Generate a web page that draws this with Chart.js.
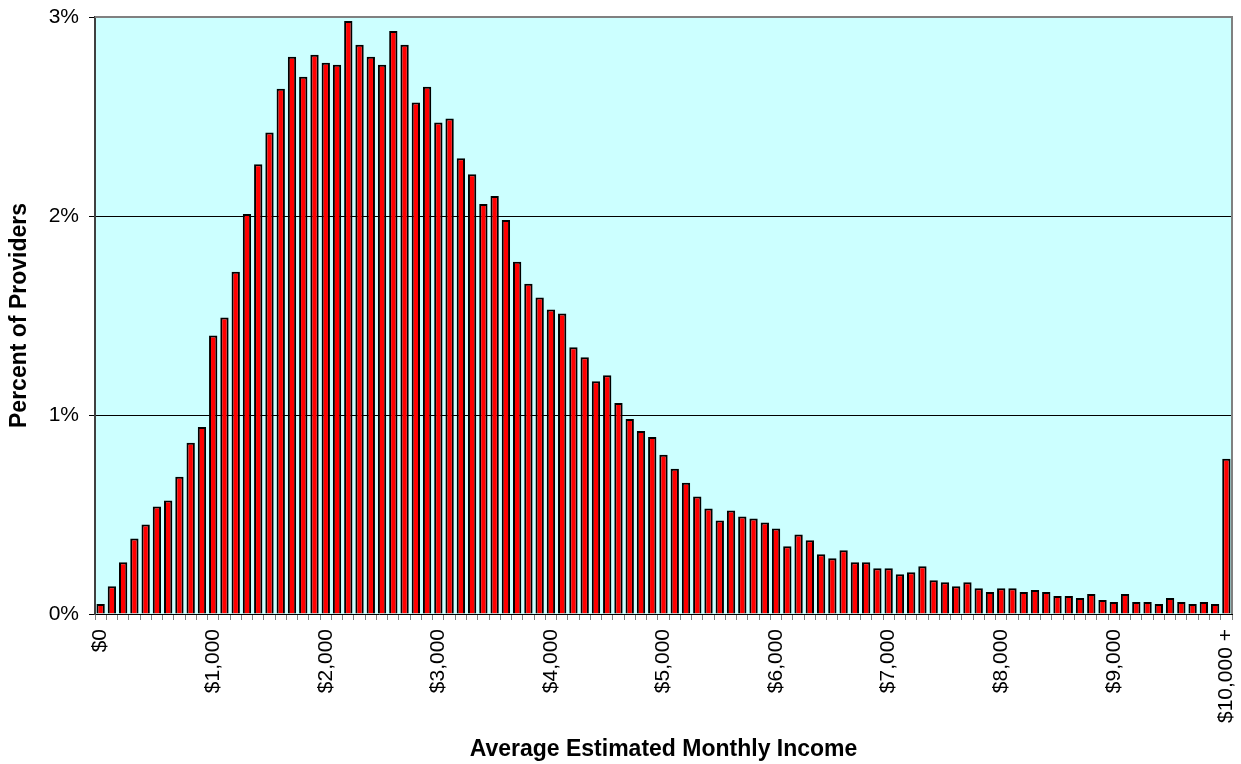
<!DOCTYPE html>
<html>
<head>
<meta charset="utf-8">
<script src="https://cdn.jsdelivr.net/npm/chart.js@4.4.1/dist/chart.umd.min.js"></script>
<style>
  html, body { margin: 0; padding: 0; background: #fff; }
  #incomeChart { display: block; }
</style>
</head>
<body>
<canvas id="incomeChart" width="1241" height="764"></canvas>
<script>
// ======================================================================
// Data: $100 income bins, share of providers in percent
// ======================================================================
const binStarts = [];
for (let v = 0; v <= 10000; v += 100) binStarts.push(v);

const providerShare = [
  0.05, 0.14, 0.26, 0.38, 0.45, 0.54, 0.57, 0.69, 0.86, 0.94,
  1.40, 1.49, 1.72, 2.01, 2.26, 2.42, 2.64, 2.80, 2.70, 2.81,
  2.77, 2.76, 2.98, 2.86, 2.80, 2.76, 2.93, 2.86, 2.57, 2.65,
  2.47, 2.49, 2.29, 2.21, 2.06, 2.10, 1.98, 1.77, 1.66, 1.59,
  1.53, 1.51, 1.34, 1.29, 1.17, 1.20, 1.06, 0.98, 0.92, 0.89,
  0.80, 0.73, 0.66, 0.59, 0.53, 0.47, 0.52, 0.49, 0.48, 0.46,
  0.43, 0.34, 0.40, 0.37, 0.30, 0.28, 0.32, 0.26, 0.26, 0.23,
  0.23, 0.20, 0.21, 0.24, 0.17, 0.16, 0.14, 0.16, 0.13, 0.11,
  0.13, 0.13, 0.11, 0.12, 0.11, 0.09, 0.09, 0.08, 0.10, 0.07,
  0.06, 0.10, 0.06, 0.06, 0.05, 0.08, 0.06, 0.05, 0.06, 0.05,
  0.78
];

// every 10th bin gets a label
const xTickLabels = ['$0', '$1,000', '$2,000', '$3,000', '$4,000', '$5,000',
  '$6,000', '$7,000', '$8,000', '$9,000', '$10,000 +'];

const yTickValues = [0, 1, 2, 3];

const FONT = '"Liberation Sans", Arial, sans-serif';

// plot background + grey frame on top/right
const plotFrame = {
  id: 'plotFrame',
  beforeDraw(chart) {
    const { ctx, chartArea: a } = chart;
    ctx.save();
    ctx.fillStyle = '#CCFFFF';
    ctx.fillRect(a.left, a.top, a.right - a.left, a.bottom - a.top);
    ctx.restore();
  },
  afterDraw(chart) {
    const { ctx, chartArea: a } = chart;
    ctx.save();
    ctx.strokeStyle = '#808080';
    ctx.lineWidth = 2;
    ctx.beginPath();
    ctx.moveTo(a.left, a.top);
    ctx.lineTo(a.right, a.top);
    ctx.lineTo(a.right, a.bottom);
    ctx.stroke();
    ctx.restore();
  }
};

new Chart(document.getElementById('incomeChart').getContext('2d'), {
  type: 'bar',
  data: {
    labels: binStarts,
    datasets: [{
      data: providerShare,
      backgroundColor: '#FF0000',
      borderColor: '#000000',
      borderWidth: 2,
      barPercentage: 0.74,
      categoryPercentage: 1.0
    }]
  },
  options: {
    responsive: false,
    animation: false,
    layout: { padding: { top: 17, right: 9, left: 0, bottom: 0 } },
    plugins: {
      legend: { display: false },
      tooltip: { enabled: false }
    },
    scales: {
      x: {
        offset: true,
        grid: {
          offset: true,
          drawOnChartArea: false,
          drawTicks: true,
          tickLength: 6,
          color: '#808080'
        },
        border: { color: '#000000', width: 1 },
        ticks: {
          autoSkip: false,
          minRotation: 90,
          maxRotation: 90,
          padding: 9,
          color: '#000000',
          font: { family: FONT, size: 21 },
          callback: (v, i) => (i % 10 === 0 ? xTickLabels[i / 10] : '')
        },
        title: {
          display: true,
          text: 'Average Estimated Monthly Income',
          color: '#000000',
          font: { family: FONT, size: 23, weight: 'bold' },
          padding: { top: 0, bottom: 1 }
        },
        afterFit: (scale) => {
          scale.height = 150;
          scale.paddingLeft = 0;
          scale.paddingRight = 0;
        }
      },
      y: {
        min: 0,
        max: 3,
        afterBuildTicks: (scale) => { scale.ticks = yTickValues.map(v => ({ value: v })); },
        grid: {
          drawTicks: true,
          tickLength: 6,
          tickColor: '#000000',
          color: (c) => (c.tick && (c.tick.value === 1 || c.tick.value === 2) ? '#000000' : 'rgba(0,0,0,0)')
        },
        border: { color: '#404040', width: 2 },
        ticks: {
          padding: 10,
          color: '#000000',
          font: { family: FONT, size: 21 },
          callback: (v) => v + '%'
        },
        title: {
          display: true,
          text: 'Percent of Providers',
          color: '#000000',
          font: { family: FONT, size: 23, weight: 'bold' },
          padding: { top: 6, bottom: 0 }
        },
        afterFit: (scale) => {
          scale.width = 95;
          scale.paddingTop = 0;
          scale.paddingBottom = 0;
        }
      }
    }
  },
  plugins: [plotFrame]
});
</script>
</body>
</html>
